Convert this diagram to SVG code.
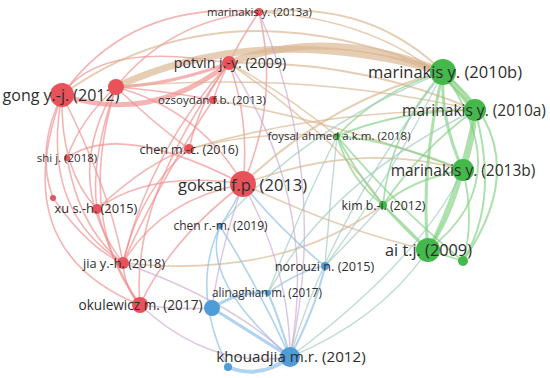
<svg xmlns="http://www.w3.org/2000/svg" width="550" height="378" viewBox="0 0 550 378">
<style>
.e path{fill:none;stroke-linecap:round}
.er{stroke:#f08c8c;stroke-opacity:.65;stroke-width:1.6}
.ey{stroke:#d8b48e;stroke-opacity:.65;stroke-width:1.6}
.eg{stroke:#7fd07f;stroke-opacity:.65;stroke-width:1.8}
.eb{stroke:#8ec1ea;stroke-opacity:.7;stroke-width:1.6}
.et{stroke:#9ccabd;stroke-opacity:.65;stroke-width:1.4}
.ep{stroke:#c7a6cf;stroke-opacity:.65;stroke-width:1.4}
.r{fill:#e8525a}
.g{fill:#44b84a}
.b{fill:#4e9cd8}
text{font-family:"Open Sans","Liberation Sans",sans-serif;fill:#2e2e2e;text-anchor:middle}
</style>
<rect width="550" height="378" fill="#ffffff"/>
<g id="connectors" class="e">
<path class="er" d="M62,95 Q130,0 259,12"/>
<path class="er" d="M116,87 Q170,20 259,12"/>
<path class="er" d="M62,95 Q100,40 229,63"/>
<path class="er" style="stroke-width:5" d="M62,95 Q150,125 229,63"/>
<path class="er" style="stroke-width:3" d="M116,87 Q170,85 229,63"/>
<path class="er" d="M62,95 Q5,250 140,305"/>
<path class="er" d="M62,95 Q40,210 123,263"/>
<path class="er" d="M62,95 Q60,170 97,209"/>
<path class="er" d="M62,95 Q35,150 53,198"/>
<path class="er" d="M62,95 Q110,190 123,263"/>
<path class="er" d="M116,87 Q60,180 123,263"/>
<path class="er" d="M116,87 Q75,220 140,305"/>
<path class="er" d="M116,87 Q90,160 97,209"/>
<path class="er" d="M116,87 Q80,120 67,158"/>
<path class="er" d="M116,87 Q150,120 189,149"/>
<path class="er" d="M116,87 Q200,110 243,184"/>
<path class="er" d="M116,87 Q160,90 213,100"/>
<path class="er" d="M229,63 Q150,150 123,263"/>
<path class="er" d="M229,63 Q250,120 243,184"/>
<path class="er" d="M229,63 Q200,100 189,149"/>
<path class="er" d="M229,63 Q220,80 213,100"/>
<path class="er" d="M213,100 Q160,180 123,263"/>
<path class="er" d="M189,149 Q140,190 123,263"/>
<path class="er" d="M243,184 Q160,200 123,263"/>
<path class="er" d="M243,184 Q150,170 97,209"/>
<path class="er" d="M243,184 Q120,120 67,158"/>
<path class="er" d="M123,263 Q125,290 140,305"/>
<path class="er" d="M97,209 Q110,260 140,305"/>
<path class="er" d="M67,158 Q80,230 123,263"/>
<path class="er" d="M53,198 Q90,250 123,263"/>
<path class="er" d="M259,12 Q240,40 229,63"/>
<path class="er" d="M259,12 Q280,100 243,184"/>
<path class="er" d="M229,63 Q130,200 140,305"/>
<path class="er" d="M243,184 Q170,240 140,305"/>
<path class="er" d="M189,149 Q150,160 97,209"/>
<path class="ey" style="stroke-width:7" d="M116,87 Q260,20 443,72"/>
<path class="ey" style="stroke-width:7" d="M229,63 Q330,25 443,72"/>
<path class="ey" style="stroke-width:2" d="M62,95 Q220,-20 443,72"/>
<path class="ey" style="stroke-width:2" d="M259,12 Q370,0 443,72"/>
<path class="ey" d="M259,12 Q400,20 475,110"/>
<path class="ey" style="stroke-width:2" d="M229,63 Q360,60 475,110"/>
<path class="ey" d="M116,87 Q300,70 475,110"/>
<path class="ey" style="stroke-width:2" d="M243,184 Q330,100 443,72"/>
<path class="ey" d="M243,184 Q360,140 463,170"/>
<path class="ey" d="M189,149 Q320,110 475,110"/>
<path class="ey" d="M213,100 Q330,120 463,170"/>
<path class="ey" d="M123,263 Q280,280 383,205"/>
<path class="ey" d="M243,184 Q340,230 428,250"/>
<path class="ey" d="M229,63 Q340,140 383,205"/>
<path class="ey" d="M337,136 Q280,90 229,63"/>
<path class="ey" d="M337,136 Q260,130 189,149"/>
<path class="eg" style="stroke-width:6" d="M443,72 L475,110"/>
<path class="eg" style="stroke-width:4" d="M475,110 Q475,140 463,170"/>
<path class="eg" style="stroke-width:3" d="M443,72 Q440,120 463,170"/>
<path class="eg" style="stroke-width:3" d="M443,72 Q420,170 428,250"/>
<path class="eg" style="stroke-width:3" d="M475,110 Q460,190 428,250"/>
<path class="eg" style="stroke-width:3" d="M463,170 Q450,220 428,250"/>
<path class="eg" style="stroke-width:2" d="M443,72 Q540,150 463,261"/>
<path class="eg" d="M443,72 Q520,180 428,250"/>
<path class="eg" style="stroke-width:2" d="M475,110 Q500,200 463,261"/>
<path class="eg" d="M463,170 Q475,220 463,261"/>
<path class="eg" d="M443,72 Q380,90 337,136"/>
<path class="eg" d="M475,110 Q400,110 337,136"/>
<path class="eg" d="M463,170 Q390,140 337,136"/>
<path class="eg" d="M337,136 Q370,200 428,250"/>
<path class="eg" d="M337,136 Q350,180 383,205"/>
<path class="eg" d="M443,72 Q390,130 383,205"/>
<path class="eg" d="M475,110 Q420,150 383,205"/>
<path class="eg" d="M463,170 Q410,180 383,205"/>
<path class="eg" d="M383,205 Q410,230 428,250"/>
<path class="eg" d="M428,250 L463,261"/>
<path class="eg" d="M337,136 Q400,210 463,261"/>
<path class="eb" style="stroke-width:3" d="M290,357 Q255,335 212,308"/>
<path class="eb" style="stroke-width:3" d="M212,308 Q240,290 268,293"/>
<path class="eb" style="stroke-width:4" d="M290,357 Q260,380 228,367"/>
<path class="eb" style="stroke-width:2" d="M290,357 Q280,320 268,293"/>
<path class="eb" style="stroke-width:2" d="M290,357 Q315,310 325,266"/>
<path class="eb" d="M268,293 Q300,270 325,266"/>
<path class="eb" d="M290,357 Q200,280 220,226"/>
<path class="eb" d="M228,367 Q190,290 220,226"/>
<path class="eb" d="M220,226 Q260,290 290,357"/>
<path class="eb" d="M220,226 Q235,205 243,184"/>
<path class="eb" d="M325,266 Q280,230 243,184"/>
<path class="ep" d="M290,357 Q290,270 243,184"/>
<path class="ep" d="M212,308 Q220,250 243,184"/>
<path class="ep" d="M140,305 Q210,370 290,357"/>
<path class="ep" d="M140,305 Q180,310 212,308"/>
<path class="ep" d="M123,263 Q230,300 290,357"/>
<path class="ep" d="M259,12 Q330,180 290,357"/>
<path class="ep" d="M229,63 Q320,200 290,357"/>
<path class="et" d="M268,293 Q300,210 337,136"/>
<path class="et" d="M325,266 Q330,200 337,136"/>
<path class="et" d="M325,266 Q360,230 383,205"/>
<path class="et" d="M290,357 Q380,320 428,250"/>
<path class="et" d="M290,357 Q420,260 463,170"/>
<path class="et" d="M290,357 Q330,220 443,72"/>
<path class="et" d="M325,266 Q390,180 443,72"/>
<path class="et" d="M268,293 Q330,180 475,110"/>
<path class="et" d="M220,226 Q300,130 443,72"/>
</g>
<g id="n-gong"><circle class="r" cx="62" cy="95" r="12"/><text x="61" y="101" font-size="16">gong y.-j. (2012)</text></g>
<g id="n-red-a"><circle class="r" cx="116" cy="87" r="8"/></g>
<g id="n-marinakis2013a"><circle class="r" cx="259" cy="12" r="4"/><text x="259.5" y="16" font-size="11.3">marinakis y. (2013a)</text></g>
<g id="n-potvin"><circle class="r" cx="229" cy="63" r="7"/><text x="230" y="68" font-size="14.2">potvin j.-y. (2009)</text></g>
<g id="n-ozsoydan"><circle class="r" cx="213" cy="100" r="4"/><text x="212" y="104" font-size="11.6">ozsoydan f.b. (2013)</text></g>
<g id="n-chenmc"><circle class="r" cx="189" cy="149" r="5"/><text x="189" y="153.5" font-size="12.5">chen m.-c. (2016)</text></g>
<g id="n-shi"><circle class="r" cx="67" cy="158" r="3"/><text x="67" y="162" font-size="11.5">shi j. (2018)</text></g>
<g id="n-goksal"><circle class="r" cx="243" cy="184" r="13"/><text x="242.5" y="191" font-size="16.5">goksal f.p. (2013)</text></g>
<g id="n-red-b"><circle class="r" cx="53" cy="198" r="3"/></g>
<g id="n-xu"><circle class="r" cx="97" cy="209" r="5"/><text x="96" y="212.5" font-size="12.8">xu s.-h. (2015)</text></g>
<g id="n-jia"><circle class="r" cx="123" cy="263" r="6"/><text x="124" y="267.5" font-size="12.8">jia y.-h. (2018)</text></g>
<g id="n-okulewicz"><circle class="r" cx="140" cy="305" r="8"/><text x="140.5" y="310" font-size="13.6">okulewicz m. (2017)</text></g>
<g id="n-marinakis2010b"><circle class="g" cx="443" cy="72" r="13"/><text x="445" y="78" font-size="16.5">marinakis y. (2010b)</text></g>
<g id="n-marinakis2010a"><circle class="g" cx="475" cy="110" r="11"/><text x="474" y="115.5" font-size="15.5">marinakis y. (2010a)</text></g>
<g id="n-marinakis2013b"><circle class="g" cx="463" cy="170" r="11"/><text x="463" y="175.5" font-size="15.5">marinakis y. (2013b)</text></g>
<g id="n-foysal"><circle class="g" cx="337" cy="136" r="3"/><text x="339" y="140" font-size="11.5">foysal ahmed a.k.m. (2018)</text></g>
<g id="n-kim"><circle class="g" cx="383" cy="205" r="4"/><text x="383.5" y="209.5" font-size="12.3">kim b.-i. (2012)</text></g>
<g id="n-ai"><circle class="g" cx="428" cy="250" r="12"/><text x="428.5" y="256" font-size="16.3">ai t.j. (2009)</text></g>
<g id="n-green-a"><circle class="g" cx="463" cy="261" r="5"/></g>
<g id="n-chenrm"><circle class="b" cx="220" cy="226" r="3"/><text x="220.5" y="230" font-size="12">chen r.-m. (2019)</text></g>
<g id="n-norouzi"><circle class="b" cx="325" cy="266" r="4"/><text x="324.5" y="270.5" font-size="12.7">norouzi n. (2015)</text></g>
<g id="n-alinaghian"><circle class="b" cx="268" cy="293" r="3"/><text x="267" y="297" font-size="11.7">alinaghian m. (2017)</text></g>
<g id="n-blue-a"><circle class="b" cx="212" cy="308" r="8"/></g>
<g id="n-khouadjia"><circle class="b" cx="290" cy="357" r="10"/><text x="291" y="362" font-size="15.2">khouadjia m.r. (2012)</text></g>
<g id="n-blue-b"><circle class="b" cx="228" cy="367" r="4"/></g>
</svg>
